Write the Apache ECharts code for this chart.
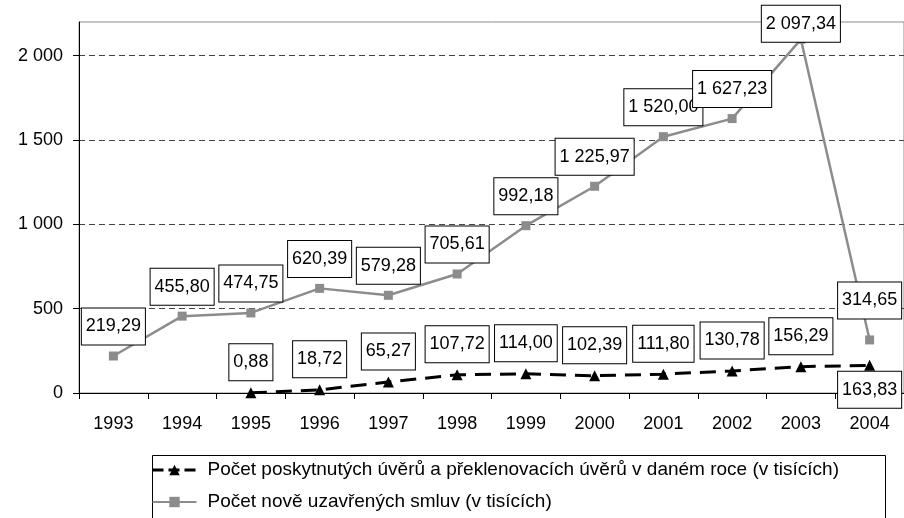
<!DOCTYPE html>
<html>
<head>
<meta charset="utf-8">
<script src="https://cdn.jsdelivr.net/npm/echarts@6/dist/echarts.min.js"></script>
<style>
  html, body { margin: 0; padding: 0; background: #fff; }
  #chart { width: 904px; height: 518px; }
</style>
</head>
<body>
<div id="chart"></div>
<script>
  var years = ['1993', '1994', '1995', '1996', '1997', '1998', '1999', '2000', '2001', '2002', '2003', '2004'];
  // poskytnuté úvěry (v tisících)
  var uvery = [null, null, 0.88, 18.72, 65.27, 107.72, 114.00, 102.39, 111.80, 130.78, 156.29, 163.83];
  // nově uzavřené smlouvy (v tisících)
  var smlouvy = [219.29, 455.80, 474.75, 620.39, 579.28, 705.61, 992.18, 1225.97, 1520.00, 1627.23, 2097.34, 314.65];
  var yTicks = [0, 500, 1000, 1500, 2000];

  var nameUvery = 'Počet poskytnutých úvěrů a překlenovacích úvěrů v daném roce (v tisících)';
  var nameSmlouvy = 'Počet nově uzavřených smluv (v tisících)';

  var FONT = '"Liberation Sans", Arial, sans-serif';

  function cz(v, dec) {
    var s = v.toFixed(dec);
    var parts = s.split('.');
    var whole = parts[0].replace(/\B(?=(\d{3})+(?!\d))/g, ' ');
    return parts.length > 1 ? whole + ',' + parts[1] : whole;
  }

  var boxLabel = {
    show: true,
    position: 'top',
    distance: 7,
    formatter: function (p) { return cz(p.value, 2); },
    fontFamily: FONT,
    fontSize: 18,
    color: '#000',
    backgroundColor: '#fff',
    borderColor: '#000',
    borderWidth: 1,
    padding: [8, 4, 8, 4],
    lineHeight: 20
  };

  var chart = echarts.init(document.getElementById('chart'));

  var greyData = smlouvy.map(function (v, i) {
    if (i === 10) return { value: v, label: { offset: [0, 14] } };
    if (i === 11) return { value: v, label: { offset: [0, -10] } };
    return v;
  });
  var blackData = uvery.map(function (v, i) {
    if (i === 11) return { value: v, label: { position: 'bottom', distance: 1 } };
    return v;
  });

  var option = {
    animation: false,
    grid: {
      left: 79, right: 0, top: 22, bottom: 125,
      show: true, borderColor: '#8c8c8c', borderWidth: 1
    },
    legend: {
      orient: 'vertical',
      left: 151,
      top: 459,
      padding: 0,
      itemGap: 10,
      itemWidth: 44,
      itemHeight: 13,
      textStyle: { fontFamily: FONT, fontSize: 19, color: '#000', lineHeight: 22, padding: [0, 0, 0, 6] },
      data: [
        { name: nameUvery, lineStyle: { type: [11, 5], width: 3 } },
        { name: nameSmlouvy }
      ]
    },
    graphic: [{
      type: 'rect',
      left: 150, top: 453,
      shape: { width: 733, height: 80 },
      style: { fill: 'none', stroke: '#000', lineWidth: 1 },
      z: 0
    }],
    xAxis: {
      type: 'category',
      data: years,
      boundaryGap: true,
      axisLine: { lineStyle: { color: '#000', width: 1 } },
      axisTick: { show: true, length: 6, lineStyle: { color: '#000' } },
      axisLabel: { fontFamily: FONT, fontSize: 18, color: '#000', margin: 22 }
    },
    yAxis: {
      type: 'value',
      min: 0,
      max: 2200,
      interval: 500,
      axisLine: { show: true, lineStyle: { color: '#000', width: 1 } },
      axisTick: { show: true, length: 6, lineStyle: { color: '#000' }, customValues: yTicks },
      axisLabel: {
        fontFamily: FONT, fontSize: 18, color: '#000', margin: 16,
        customValues: yTicks,
        formatter: function (v) { return cz(v, 0); }
      },
      splitLine: { show: true, lineStyle: { color: '#444', type: [6, 4], width: 1 } }
    },
    series: [
      {
        name: nameUvery,
        type: 'line',
        data: blackData,
        symbol: 'triangle',
        symbolSize: 11,
        itemStyle: { color: '#000' },
        lineStyle: { color: '#000', width: 3, type: [16, 9] },
        label: boxLabel,
        z: 3
      },
      {
        name: nameSmlouvy,
        type: 'line',
        data: greyData,
        symbol: 'rect',
        symbolSize: 9,
        itemStyle: { color: '#8c8c8c' },
        lineStyle: { color: '#8c8c8c', width: 2.5 },
        label: boxLabel,
        z: 4
      }
    ]
  };

  chart.setOption(option);
</script>
</body>
</html>
